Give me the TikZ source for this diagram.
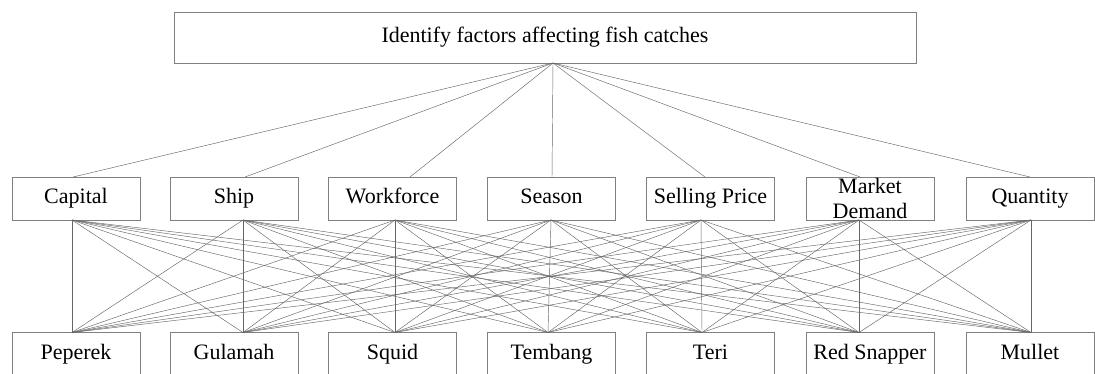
\documentclass[tikz,border=0pt]{standalone}
\usepackage{fontspec}
\setmainfont{Liberation Serif}
\begin{document}
\begin{tikzpicture}[x=1pt,y=-1pt,
  box/.style={draw=black!50, line width=0.6pt, minimum width=128pt, minimum height=43pt, inner sep=0pt,
    font=\fontsize{22}{25}\selectfont, text height=15pt, text depth=5pt},
  box2/.style={draw=black!50, line width=0.6pt, minimum width=128pt, minimum height=43pt, inner sep=0pt,
    font=\fontsize{22}{25}\selectfont, align=center},
  link/.style={draw=black!60, line width=0.45pt}]
\useasboundingbox (0,0) rectangle (1095,374);
\fill[white] (0,0) rectangle (1095,374);
% top
\node[box, minimum width=742pt, minimum height=51pt] (top) at (545,37.5) {Identify factors affecting fish catches};
\coordinate (T) at (553,63);
% middle factors
\node[box] (m1) at (76,198.5) {Capital};
\node[box] (m2) at (234,198.5) {Ship};
\node[box] (m3) at (392.5,198.5) {Workforce};
\node[box] (m4) at (551.5,198.5) {Season};
\node[box] (m5) at (710.5,198.5) {Selling Price};
\node[box2] (m6) at (870,198.5) {Market\\Demand};
\node[box] (m7) at (1030,198.5) {Quantity};
% bottom fish
\node[box] (b1) at (76,354) {Peperek};
\node[box] (b2) at (234,354) {Gulamah};
\node[box] (b3) at (392.5,354) {Squid};
\node[box] (b4) at (551.5,354) {Tembang};
\node[box] (b5) at (710.5,354) {Teri};
\node[box] (b6) at (870,354) {Red Snapper};
\node[box] (b7) at (1030,354) {Mullet};
% anchor points
\foreach \i/\x in {1/73,2/245,3/410,4/552,5/705,6/860,7/1030} \coordinate (mt\i) at (\x,177);
\foreach \i/\x in {1/72,2/243,3/395,4/551,5/701,6/859,7/1031} \coordinate (mb\i) at (\x,220);
\foreach \i/\x in {1/72,2/243,3/395,4/548,5/702,6/859,7/1031} \coordinate (bt\i) at (\x,332.5);
% connectors
\foreach \i in {1,...,7} \draw[link] (T) -- (mt\i);
\foreach \i in {1,...,7} \foreach \j in {1,...,7} \draw[link] (mb\i) -- (bt\j);
\end{tikzpicture}
\end{document}
